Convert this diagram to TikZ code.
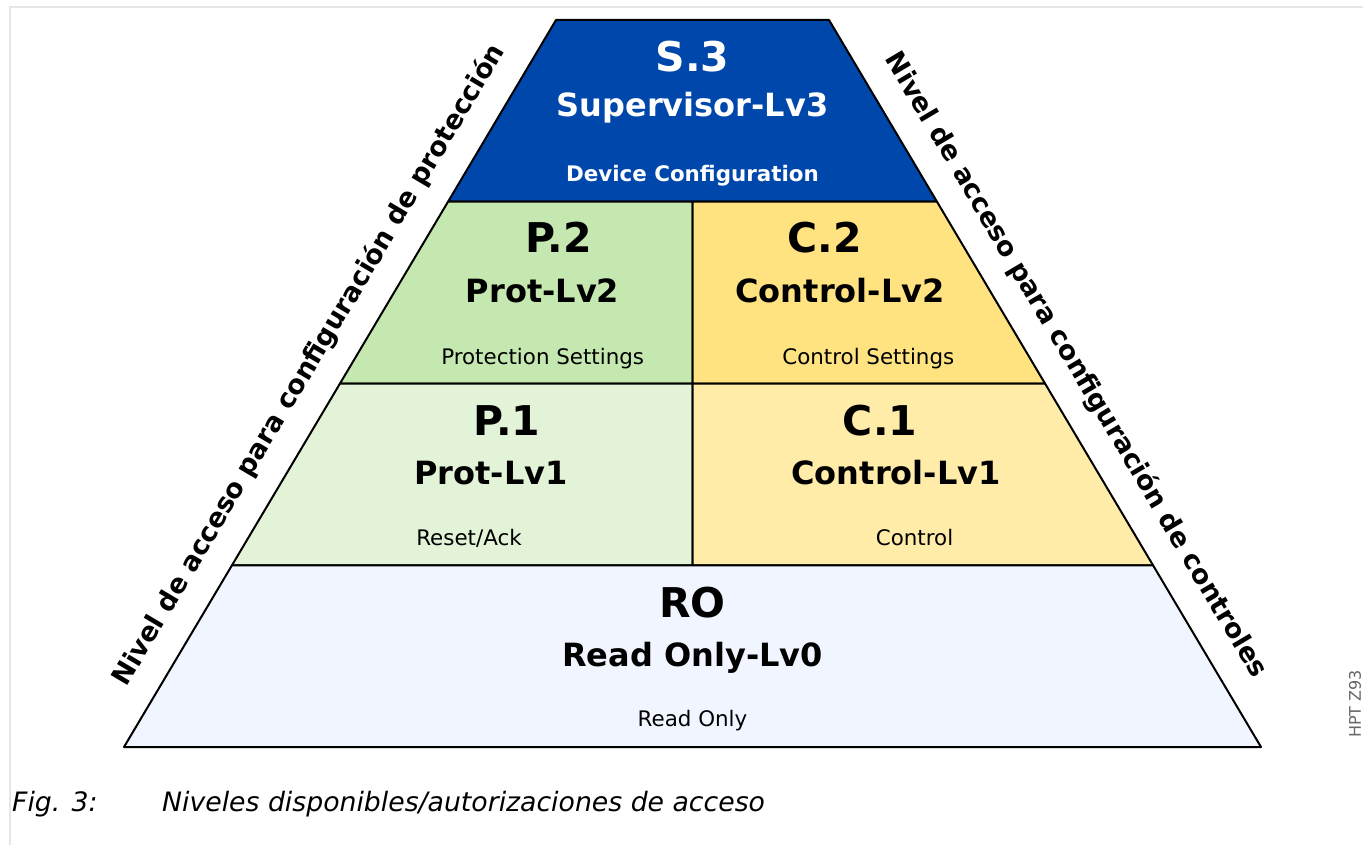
\documentclass[tikz,border=0pt]{standalone}
\usepackage{fontspec}
\setmainfont{DejaVu Sans}
\usetikzlibrary{calc}

\definecolor{supblue}{HTML}{0047AB}
\definecolor{protgreen}{HTML}{C5E8B0}
\definecolor{ctrlyellow}{HTML}{FFE380}
\definecolor{resetgreen}{HTML}{E2F3D7}
\definecolor{ctrllight}{HTML}{FFECA8}
\definecolor{roblue}{HTML}{F0F5FF}
\definecolor{framegray}{HTML}{E6E6E6}

\begin{document}
\begin{tikzpicture}[
    x=1pt, y=-1pt,
    every node/.style={inner sep=0pt},
    layer/.style={
        draw=black,
        line width=2pt,
        line join=round
    },
    idtag/.style={
        anchor=base,
        font=\bfseries\fontsize{41}{41}\selectfont
    },
    lvtag/.style={
        anchor=base,
        font=\bfseries\fontsize{32}{32}\selectfont
    },
    desctag/.style={
        anchor=base,
        font=\fontsize{21.4}{21.4}\selectfont
    },
    sidetag/.style={
        font=\bfseries\fontsize{26.7}{26.7}\selectfont,
        midway,
        sloped,
        above=22pt
    },
    captag/.style={
        anchor=base west,
        font=\itshape\fontsize{26.7}{26.7}\selectfont
    }
]
\useasboundingbox (0,0) rectangle (1363,845);

% Rahmen
\draw[framegray, line width=2pt] (10,845) -- (10,7) -- (1363,7);

% Eckpunkte der Pyramide
\coordinate (bl) at (124,747);
\coordinate (br) at (1261,747);
\coordinate (tl) at (556,20);
\coordinate (tr) at (829,20);

\coordinate (l1) at ($(bl)!0.75!(tl)$);
\coordinate (l2) at ($(bl)!0.5!(tl)$);
\coordinate (l3) at ($(bl)!0.25!(tl)$);
\coordinate (r1) at ($(br)!0.75!(tr)$);
\coordinate (r2) at ($(br)!0.5!(tr)$);
\coordinate (r3) at ($(br)!0.25!(tr)$);
\coordinate (m1) at ($(l1)!0.5!(r1)$);
\coordinate (m2) at ($(l2)!0.5!(r2)$);
\coordinate (m3) at ($(l3)!0.5!(r3)$);

% Ebenen
\path[layer, fill=supblue] (tl) -- (tr) -- (r1) -- (l1) -- cycle;
\path[layer, fill=protgreen] (l1) -- (m1) -- (m2) -- (l2) -- cycle;
\path[layer, fill=ctrlyellow] (m1) -- (r1) -- (r2) -- (m2) -- cycle;
\path[layer, fill=resetgreen] (l2) -- (m2) -- (m3) -- (l3) -- cycle;
\path[layer, fill=ctrllight] (m2) -- (r2) -- (r3) -- (m3) -- cycle;
\path[layer, fill=roblue] (l3) -- (r3) -- (br) -- (bl) -- cycle;

% Texte der Ebenen
\node[idtag, text=white] (s3id) at (692.5,72) {S.3};
\node[lvtag, text=white] (s3lv) at (692.5,117) {Supervisor-Lv3};
\node[desctag, text=white, font=\bfseries\fontsize{21.4}{21.4}\selectfont] (s3desc) at (692.5,182) {Device Configuration};

\node[idtag] (p2id) at (558.7,253) {P.2};
\node[lvtag] (p2lv) at (542.5,302) {Prot-Lv2};
\node[desctag] (p2desc) at (542.7,364) {Protection Settings};

\node[idtag] (c2id) at (824.7,253) {C.2};
\node[lvtag] (c2lv) at (840,302) {Control-Lv2};
\node[desctag] (c2desc) at (868.3,364) {Control Settings};

\node[idtag] (p1id) at (507,435) {P.1};
\node[lvtag] (p1lv) at (491,484) {Prot-Lv1};
\node[desctag] (p1desc) at (469,545) {Reset/Ack};

\node[idtag] (c1id) at (880,435) {C.1};
\node[lvtag] (c1lv) at (896,484) {Control-Lv1};
\node[desctag] (c1desc) at (914.5,545) {Control};

\node[idtag] (roid) at (692.5,617) {RO};
\node[lvtag] (rolv) at (692.5,666) {Read Only-Lv0};
\node[desctag] (rodesc) at (692.5,726) {Read Only};

% Seitenbeschriftungen
\path (bl) -- node[sidetag] (protaxis) {Nivel de acceso para configuración de protección} (tl);
\path (tr) -- node[sidetag] (ctrlaxis) {Nivel de acceso para configuración de controles} (br);

% Kennung und Bildunterschrift
\node[rotate=90, text=black!60, font=\fontsize{16}{16}\selectfont] (figcode) at (1355,704) {HPT Z93};
\node[captag] (figlabel) at (12,811) {Fig. 3:};
\node[captag] (figcaption) at (162,811) {Niveles disponibles/autorizaciones de acceso};
\end{tikzpicture}
\end{document}
